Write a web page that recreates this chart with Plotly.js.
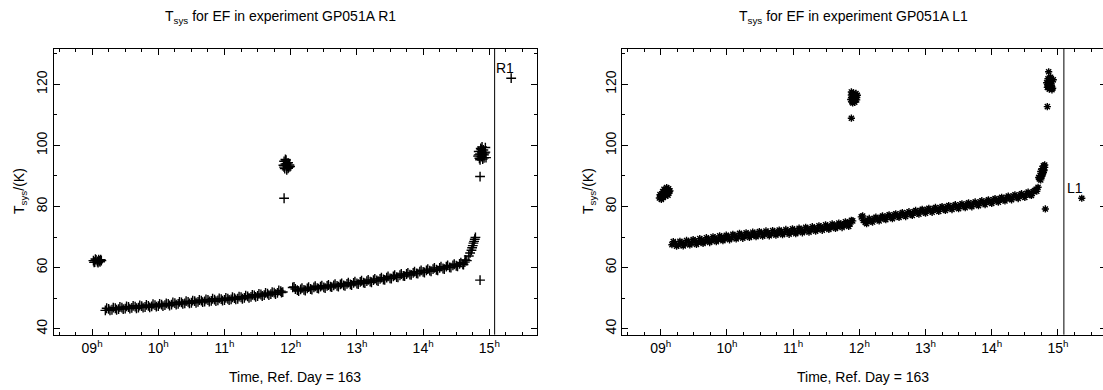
<!DOCTYPE html>
<html><head><meta charset="utf-8">
<script src="https://cdn.plot.ly/plotly-3.0.1.min.js"></script>
<style>html,body{margin:0;padding:0;overflow:hidden;background:#fff}#plot{width:1106px;height:390px}</style>
</head><body><div id="plot"></div>
<script>
// ---------- tick labels ----------
const hourTicks = [9, 10, 11, 12, 13, 14, 15];
const hourLabels = ['09', '10', '11', '12', '13', '14', '15'];
const yTicks = [40, 60, 80, 100, 120];

// ---------- R1 (left panel), time in hours, Tsys in K ----------
const r1StartT = [9.02, 9.04, 9.06, 9.08, 9.10, 9.12, 9.14, 9.05, 9.09, 9.13, 9.03, 9.11];
const r1StartV = [62.3, 61.8, 62.5, 62.0, 62.6, 61.9, 62.3, 62.8, 61.6, 62.6, 61.7, 62.2];

const r1Band1T = [9.20,9.25,9.30,9.35,9.40,9.45,9.50,9.55,9.60,9.65,9.70,9.75,9.80,9.85,9.90,9.95,10.00,10.05,10.10,10.15,10.20,10.25,10.30,10.35,10.40,10.45,10.50,10.55,10.60,10.65,10.70,10.75,10.80,10.85,10.90,10.95,11.00,11.05,11.10,11.15,11.20,11.25,11.30,11.35,11.40,11.45,11.50,11.55,11.60,11.65,11.70,11.75,11.80,11.85,11.88];
const r1Band1V = [46.0,46.5,46.2,46.7,46.4,46.9,46.6,47.1,46.8,47.2,46.9,47.4,47.1,47.5,47.3,47.7,47.4,47.9,47.7,48.1,47.9,48.4,48.1,48.6,48.3,48.8,48.5,49.0,48.8,49.2,48.9,49.4,49.1,49.5,49.3,49.7,49.4,49.8,49.6,50.0,49.8,50.3,50.1,50.6,50.4,50.9,50.7,51.2,51.0,51.5,51.3,51.8,51.7,52.3,52.0];
const r1Band1bT = [9.22,9.27,9.32,9.37,9.42,9.47,9.52,9.57,9.62,9.67,9.72,9.77,9.82,9.87,9.92,9.97,10.02,10.07,10.12,10.17,10.22,10.27,10.32,10.37,10.42,10.47,10.52,10.57,10.62,10.67,10.72,10.77,10.82,10.87,10.92,10.97,11.02,11.07,11.12,11.17,11.22,11.27,11.32,11.37,11.42,11.47,11.52,11.57,11.62,11.67,11.72,11.77,11.82,11.86];
const r1Band1bV = [46.7,46.0,46.9,46.2,47.1,46.4,47.3,46.6,47.5,46.7,47.6,46.9,47.8,47.0,48.0,47.2,48.1,47.4,48.3,47.6,48.6,47.9,48.8,48.1,49.0,48.3,49.2,48.5,49.4,48.7,49.6,48.9,49.8,49.0,49.9,49.2,50.1,49.4,50.3,49.6,50.5,49.8,50.8,50.1,51.1,50.4,51.4,50.7,51.7,51.0,52.0,51.3,52.5,51.8];

const r1NoonT = [11.89, 11.90, 11.91, 11.92, 11.93, 11.94, 11.95, 11.96, 11.97, 11.98, 11.90, 11.92, 11.94, 11.96, 11.99, 11.90];
const r1NoonV = [93.5, 94.8, 92.4, 93.9, 95.2, 92.0, 93.2, 94.3, 92.8, 93.6, 92.9, 95.4, 94.0, 92.5, 93.1, 82.7];

const r1Band2T = [12.03,12.07,12.10,12.15,12.20,12.25,12.30,12.35,12.40,12.45,12.50,12.55,12.60,12.65,12.70,12.75,12.80,12.85,12.90,12.95,13.00,13.05,13.10,13.15,13.20,13.25,13.30,13.35,13.40,13.45,13.50,13.55,13.60,13.65,13.70,13.75,13.80,13.85,13.90,13.95,14.00,14.05,14.10,14.15,14.20,14.25,14.30,14.35,14.40,14.45,14.50,14.55,14.60,14.63,14.66];
const r1Band2V = [53.5,53.0,52.6,52.9,52.7,53.2,53.0,53.5,53.3,53.8,53.5,54.0,53.8,54.2,54.0,54.5,54.2,54.7,54.5,55.0,54.8,55.3,55.1,55.6,55.4,55.9,55.8,56.3,56.1,56.7,56.5,57.1,56.9,57.5,57.3,57.9,57.7,58.3,58.1,58.7,58.6,59.1,59.0,59.5,59.3,59.9,59.7,60.3,60.1,60.7,60.6,61.2,61.1,61.8,62.3];
const r1Band2bT = [12.05,12.12,12.17,12.22,12.27,12.32,12.37,12.42,12.47,12.52,12.57,12.62,12.67,12.72,12.77,12.82,12.87,12.92,12.97,13.02,13.07,13.12,13.17,13.22,13.27,13.32,13.37,13.42,13.47,13.52,13.57,13.62,13.67,13.72,13.77,13.82,13.87,13.92,13.97,14.02,14.07,14.12,14.17,14.22,14.27,14.32,14.37,14.42,14.47,14.52,14.57,14.61,14.64];
const r1Band2bV = [53.7,52.3,53.3,52.5,53.6,52.8,53.9,53.1,54.1,53.3,54.3,53.6,54.6,53.8,54.8,54.0,55.1,54.3,55.4,54.6,55.7,54.9,56.0,55.2,56.3,55.6,56.7,56.0,57.1,56.4,57.5,56.8,57.9,57.2,58.3,57.6,58.7,58.0,59.1,58.4,59.5,58.8,59.9,59.1,60.3,59.5,60.7,60.0,61.1,60.4,61.6,61.0,62.5];

const r1RiseT = [14.69, 14.71, 14.73, 14.74, 14.75, 14.76, 14.77, 14.78, 14.79];
const r1RiseV = [63.8, 64.8, 65.7, 66.5, 67.2, 68.0, 68.6, 69.3, 69.9];

const r1EndT = [14.83,14.84,14.85,14.86,14.87,14.88,14.89,14.90,14.91,14.92,14.93,14.94,14.95,14.86,14.88,14.90,14.92,14.94,14.84,14.89,14.86,14.86];
const r1EndV = [96.5,98.0,95.8,97.2,99.0,96.3,97.8,95.5,98.5,96.9,97.5,99.3,96.0,95.3,98.6,97.0,95.9,97.8,96.9,99.5,89.8,55.9];

const r1KeyT = [15.33];
const r1KeyV = [122.0];

// ---------- L1 (right panel) ----------
const l1StartT = [8.98, 9.00, 9.02, 9.04, 9.06, 9.08, 9.10, 9.12, 9.13, 9.01, 9.03, 9.05, 9.07, 9.09, 9.11, 9.14, 8.99];
const l1StartV = [82.8, 83.5, 84.2, 83.0, 84.6, 85.3, 84.0, 85.8, 84.9, 82.3, 84.8, 85.6, 83.4, 86.2, 83.7, 85.1, 83.9];

const l1Band1T = [9.17,9.22,9.27,9.32,9.37,9.42,9.47,9.52,9.57,9.62,9.67,9.72,9.77,9.82,9.87,9.92,9.97,10.02,10.07,10.12,10.17,10.22,10.27,10.32,10.37,10.42,10.47,10.52,10.57,10.62,10.67,10.72,10.77,10.82,10.87,10.92,10.97,11.02,11.07,11.12,11.17,11.22,11.27,11.32,11.37,11.42,11.47,11.52,11.57,11.62,11.67,11.72,11.77,11.82,11.86,11.90];
const l1Band1V = [67.5,68.0,67.4,68.2,67.7,68.6,68.0,68.8,68.3,69.1,68.6,69.4,68.9,69.7,69.2,70.0,69.5,70.2,69.8,70.5,70.0,70.8,70.3,71.0,70.5,71.2,70.7,71.4,70.9,71.5,71.0,71.7,71.2,71.9,71.4,72.0,71.6,72.2,71.8,72.5,72.0,72.8,72.3,73.0,72.6,73.3,72.9,73.6,73.2,73.9,73.5,74.2,73.8,74.7,74.3,75.3];
const l1Band1bT = [9.19,9.24,9.29,9.34,9.39,9.44,9.49,9.54,9.59,9.64,9.69,9.74,9.79,9.84,9.89,9.94,9.99,10.04,10.09,10.14,10.19,10.24,10.29,10.34,10.39,10.44,10.49,10.54,10.59,10.64,10.69,10.74,10.79,10.84,10.89,10.94,10.99,11.04,11.09,11.14,11.19,11.24,11.29,11.34,11.39,11.44,11.49,11.54,11.59,11.64,11.69,11.74,11.79,11.84,11.88];
const l1Band1bV = [68.5,67.0,68.6,67.1,68.9,67.4,69.2,67.6,69.5,67.9,69.8,68.2,70.1,68.5,70.4,68.8,70.6,69.1,70.9,69.4,71.2,69.6,71.4,69.9,71.6,70.1,71.8,70.3,72.0,70.4,72.1,70.6,72.3,70.8,72.5,70.9,72.7,71.1,72.9,71.4,73.2,71.6,73.4,71.9,73.7,72.2,74.0,72.5,74.3,72.8,74.6,73.1,75.0,73.5,75.5];

const l1NoonT = [11.87, 11.88, 11.89, 11.90, 11.91, 11.92, 11.93, 11.94, 11.95, 11.96, 11.97, 11.88, 11.90, 11.93, 11.96, 11.88];
const l1NoonV = [115.0, 116.5, 114.2, 115.8, 117.2, 114.6, 116.1, 115.3, 117.0, 114.9, 116.4, 117.5, 113.9, 114.1, 115.7, 108.9];

const l1Band2T = [12.03,12.06,12.09,12.13,12.18,12.23,12.28,12.33,12.38,12.43,12.48,12.53,12.58,12.63,12.68,12.73,12.78,12.83,12.88,12.93,12.98,13.03,13.08,13.13,13.18,13.23,13.28,13.33,13.38,13.43,13.48,13.53,13.58,13.63,13.68,13.73,13.78,13.83,13.88,13.93,13.98,14.03,14.08,14.13,14.18,14.23,14.28,14.33,14.38,14.43,14.48,14.53,14.58,14.63,14.67,14.70];
const l1Band2V = [76.6,75.4,74.8,75.6,75.2,76.1,75.7,76.5,76.0,76.9,76.4,77.2,76.8,77.6,77.1,77.9,77.4,78.3,77.8,78.7,78.2,79.0,78.5,79.3,78.8,79.6,79.1,79.9,79.4,80.2,79.7,80.5,80.0,80.8,80.3,81.1,80.7,81.5,81.0,81.8,81.4,82.2,81.8,82.6,82.2,83.0,82.6,83.4,83.0,83.8,83.4,84.3,83.9,84.9,85.6,86.3];
const l1Band2bT = [12.05,12.11,12.15,12.20,12.25,12.30,12.35,12.40,12.45,12.50,12.55,12.60,12.65,12.70,12.75,12.80,12.85,12.90,12.95,13.00,13.05,13.10,13.15,13.20,13.25,13.30,13.35,13.40,13.45,13.50,13.55,13.60,13.65,13.70,13.75,13.80,13.85,13.90,13.95,14.00,14.05,14.10,14.15,14.20,14.25,14.30,14.35,14.40,14.45,14.50,14.55,14.60,14.65,14.68];
const l1Band2bV = [76.9,74.4,76.1,74.9,76.5,75.3,76.9,75.7,77.3,76.0,77.6,76.4,78.0,76.7,78.3,77.1,78.7,77.5,79.1,77.8,79.4,78.1,79.7,78.4,80.0,78.7,80.3,79.0,80.6,79.3,80.9,79.6,81.2,79.9,81.5,80.3,81.9,80.6,82.2,81.0,82.6,81.4,83.0,81.8,83.4,82.2,83.8,82.6,84.2,83.0,84.7,83.6,85.2,85.0];

const l1RiseT = [14.72, 14.73, 14.74, 14.75, 14.76, 14.77, 14.78, 14.79, 14.80, 14.74, 14.76, 14.78, 14.80, 14.71, 14.81];
const l1RiseV = [89.0, 90.2, 91.5, 89.8, 92.4, 90.9, 93.3, 91.8, 92.8, 88.7, 90.0, 91.2, 93.6, 89.5, 79.2];

const l1EndT = [14.83,14.84,14.85,14.86,14.87,14.88,14.89,14.90,14.91,14.92,14.93,14.85,14.87,14.89,14.91,14.86,14.86,14.84];
const l1EndV = [120.5,119.0,121.8,120.0,118.4,121.2,122.3,119.6,120.8,118.7,121.5,119.3,122.0,120.2,118.2,121.0,124.1,112.7];

const l1KeyT = [15.36];
const l1KeyV = [82.7];

// ---------- build ----------
const FONT = 'Liberation Sans, Arial, Helvetica, sans-serif';
const W = 1106, H = 390;
const px = v => v / W, py = v => 1 - v / H;

const plusMarker = {symbol: 'cross-thin-open', size: 7, color: '#000', line: {width: 1.4, color: '#000'}};
const starMarker = {symbol: 'asterisk-open', size: 6, color: '#000', line: {width: 1.4, color: '#000'}};

function tr(t, v, xa, ya, mk) {
  return {type: 'scatter', mode: 'markers', x: t, y: v, xaxis: xa, yaxis: ya, marker: mk, hoverinfo: 'skip', showlegend: false, cliponaxis: false};
}

const traces = [
  tr(r1StartT, r1StartV, 'x', 'y', plusMarker),
  tr(r1Band1T, r1Band1V, 'x', 'y', plusMarker),
  tr(r1Band1bT, r1Band1bV, 'x', 'y', plusMarker),
  tr(r1NoonT, r1NoonV, 'x', 'y', plusMarker),
  tr(r1Band2T, r1Band2V, 'x', 'y', plusMarker),
  tr(r1Band2bT, r1Band2bV, 'x', 'y', plusMarker),
  tr(r1RiseT, r1RiseV, 'x', 'y', plusMarker),
  tr(r1EndT, r1EndV, 'x', 'y', plusMarker),
  tr(r1KeyT, r1KeyV, 'x', 'y', plusMarker),
  tr(l1StartT, l1StartV, 'x2', 'y2', starMarker),
  tr(l1Band1T, l1Band1V, 'x2', 'y2', starMarker),
  tr(l1Band1bT, l1Band1bV, 'x2', 'y2', starMarker),
  tr(l1NoonT, l1NoonV, 'x2', 'y2', starMarker),
  tr(l1Band2T, l1Band2V, 'x2', 'y2', starMarker),
  tr(l1Band2bT, l1Band2bV, 'x2', 'y2', starMarker),
  tr(l1RiseT, l1RiseV, 'x2', 'y2', starMarker),
  tr(l1EndT, l1EndV, 'x2', 'y2', starMarker),
  tr(l1KeyT, l1KeyV, 'x2', 'y2', starMarker)
];

const hourText = hourLabels.map(s => s + '<sup>h</sup>');

function xax(domain, anchor) {
  return {
    domain: domain, anchor: anchor, range: [8.42, 15.72],
    tickmode: 'array', tickvals: hourTicks, ticktext: hourText,
    ticks: 'inside', ticklen: 6, tickwidth: 1, tickcolor: '#000',
    minor: {ticks: 'inside', ticklen: 3, dtick: 0.25, tick0: 0, tickcolor: '#000', tickwidth: 1},
    showline: true, linecolor: '#000', linewidth: 1, mirror: 'ticks',
    showgrid: false, zeroline: false,
    tickfont: {family: FONT, size: 14, color: '#000'}
  };
}
function yax(anchor) {
  return {
    domain: [1 - 334.7 / H, 1 - 48.7 / H], anchor: anchor, range: [38.04, 131.65],
    tickmode: 'array', tickvals: yTicks, tickangle: -90,
    ticks: 'inside', ticklen: 6, tickwidth: 1, tickcolor: '#000',
    minor: {ticks: 'inside', ticklen: 3, dtick: 10, tick0: 0, tickcolor: '#000', tickwidth: 1},
    showline: true, linecolor: '#000', linewidth: 1, mirror: 'ticks',
    showgrid: false, zeroline: false,
    tickfont: {family: FONT, size: 14, color: '#000'}
  };
}

const tf = {family: FONT, size: 14, color: '#000'};
function ann(text, x, y, extra) {
  return Object.assign({text: text, xref: 'paper', yref: 'paper', x: x, y: y, showarrow: false, xanchor: 'center', yanchor: 'middle', font: tf}, extra || {});
}

const layout = {
  width: W, height: H,
  margin: {l: 0, r: 0, t: 0, b: 0, pad: 0},
  paper_bgcolor: '#fff', plot_bgcolor: '#fff',
  showlegend: false,
  xaxis: xax([px(53.7), px(537)], 'y'),
  yaxis: yax('x'),
  xaxis2: xax([px(622.3), px(1105.6)], 'y2'),
  yaxis2: yax('x2'),
  shapes: [
    {type: 'line', xref: 'x', yref: 'y domain', x0: 15.08, x1: 15.08, y0: 0, y1: 1, line: {color: '#000', width: 1}},
    {type: 'line', xref: 'x2', yref: 'y2 domain', x0: 15.09, x1: 15.09, y0: 0, y1: 1, line: {color: '#000', width: 1}}
  ],
  annotations: [
    ann('T<sub>sys</sub> for EF in experiment GP051A R1', px(280), py(17)),
    ann('T<sub>sys</sub> for EF in experiment GP051A L1', px(853), py(17)),
    ann('Time, Ref. Day = 163', px(295), py(377)),
    ann('Time, Ref. Day = 163', px(863), py(377)),
    ann('T<sub>sys</sub>/(K)', px(20), py(191), {textangle: -90}),
    ann('T<sub>sys</sub>/(K)', px(589), py(191), {textangle: -90}),
    {text: 'R1', xref: 'x', yref: 'y', x: 15.235, y: 125.3, showarrow: false, xanchor: 'center', yanchor: 'middle', font: tf},
    {text: 'L1', xref: 'x2', yref: 'y2', x: 15.26, y: 86.0, showarrow: false, xanchor: 'center', yanchor: 'middle', font: tf}
  ]
};

Plotly.newPlot('plot', traces, layout, {staticPlot: true, displayModeBar: false});
</script></body></html>
